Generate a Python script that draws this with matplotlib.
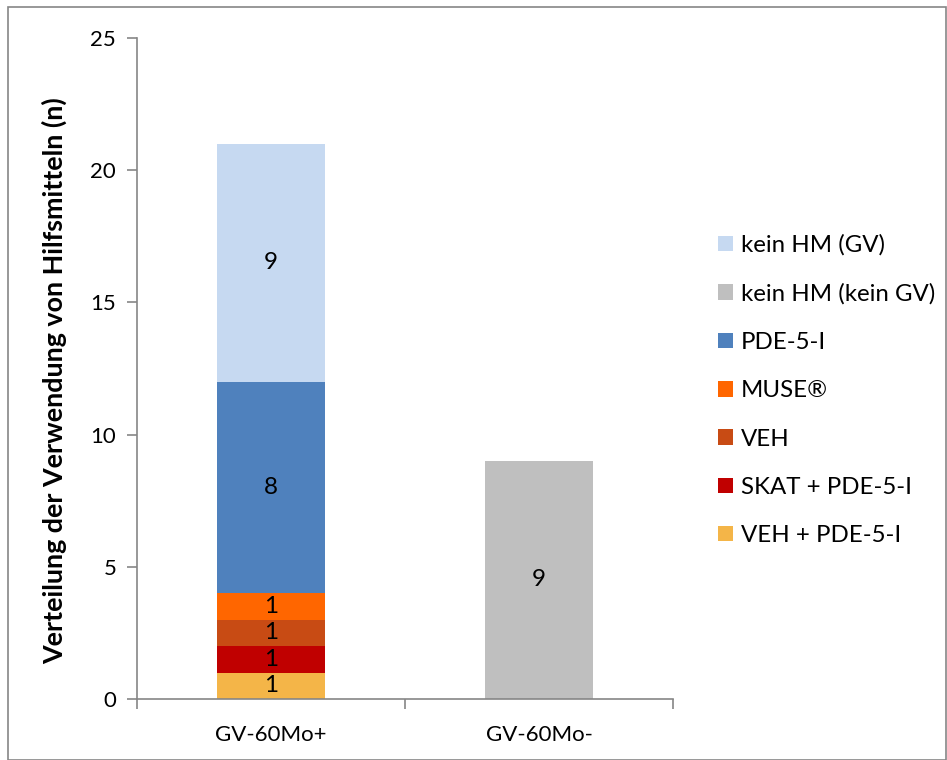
import numpy as np
import matplotlib.pyplot as plt
from matplotlib.patches import Rectangle

plt.rcParams['font.family'] = ['Lato', 'DejaVu Sans']

# Categories and stacked series (bottom to top)
categories = ["GV-60Mo+", "GV-60Mo-"]
series_names = ["VEH + PDE-5-I", "SKAT + PDE-5-I", "VEH", "MUSE®",
                "PDE-5-I", "kein HM (kein GV)", "kein HM (GV)"]
veh_pde = [1, 0]
skat_pde = [1, 0]
veh = [1, 0]
muse = [1, 0]
pde = [8, 0]
kein_hm_kein_gv = [0, 9]
kein_hm_gv = [9, 0]
series_values = [veh_pde, skat_pde, veh, muse, pde, kein_hm_kein_gv, kein_hm_gv]
series_colors = ["#F4B548", "#C00000", "#C84B14", "#FF6600",
                 "#4F81BD", "#BFBFBF", "#C6D9F1"]

axis_grey = "#868686"

fig = plt.figure(figsize=(9.47, 7.6), dpi=100)
ax = fig.add_axes([0.1447, 0.0803, 0.566, 0.8697])

x = np.arange(len(categories))
bottom = np.zeros(len(categories))
handles = {}
for name, vals, col in zip(series_names, series_values, series_colors):
    vals = np.array(vals, dtype=float)
    bars = ax.bar(x, vals, width=0.40, bottom=bottom, color=col, label=name)
    handles[name] = bars
    for xi, v, b in zip(x, vals, bottom):
        if v > 0:
            ax.text(xi, b + v / 2, f"{int(v)}", ha='center', va='center',
                    fontsize=17.5, color='black')
    bottom += vals

ax.set_xlim(-0.5, 1.5)
ax.set_ylim(0, 25)
ax.set_yticks(np.arange(0, 26, 5))
ax.set_xticks(x)
ax.set_xticklabels(categories)
ax.set_xticks([-0.5, 0.5, 1.5], minor=True)
ax.tick_params(axis='x', which='major', length=0, pad=19, labelsize=16)
ax.tick_params(axis='x', which='minor', length=7, width=1.2, color=axis_grey)
ax.tick_params(axis='y', length=7, width=1.2, color=axis_grey, labelsize=16, pad=8)

for side in ['top', 'right']:
    ax.spines[side].set_visible(False)
for side in ['left', 'bottom']:
    ax.spines[side].set_color(axis_grey)
    ax.spines[side].set_linewidth(1.2)

ax.set_ylabel("Verteilung der Verwendung von Hilfsmitteln (n)",
              fontsize=19.4, fontweight='bold')
ax.yaxis.set_label_coords(-0.131, 0.481)

legend_order = ["kein HM (GV)", "kein HM (kein GV)", "PDE-5-I", "MUSE®",
                "VEH", "SKAT + PDE-5-I", "VEH + PDE-5-I"]
fig.legend([handles[n] for n in legend_order], legend_order,
           loc='upper left', bbox_to_anchor=(0.735, 0.72),
           frameon=False, fontsize=17.3, labelspacing=1.135,
           handlelength=0.62, handleheight=0.62, handletextpad=0.35)

# thin frame around the chart area
fig.patches.append(Rectangle((8 / 947, 0), 938 / 947, 1 - 7 / 760,
                             transform=fig.transFigure, fill=False,
                             edgecolor=axis_grey, linewidth=1.2))

fig.savefig("out.png", dpi=100)
